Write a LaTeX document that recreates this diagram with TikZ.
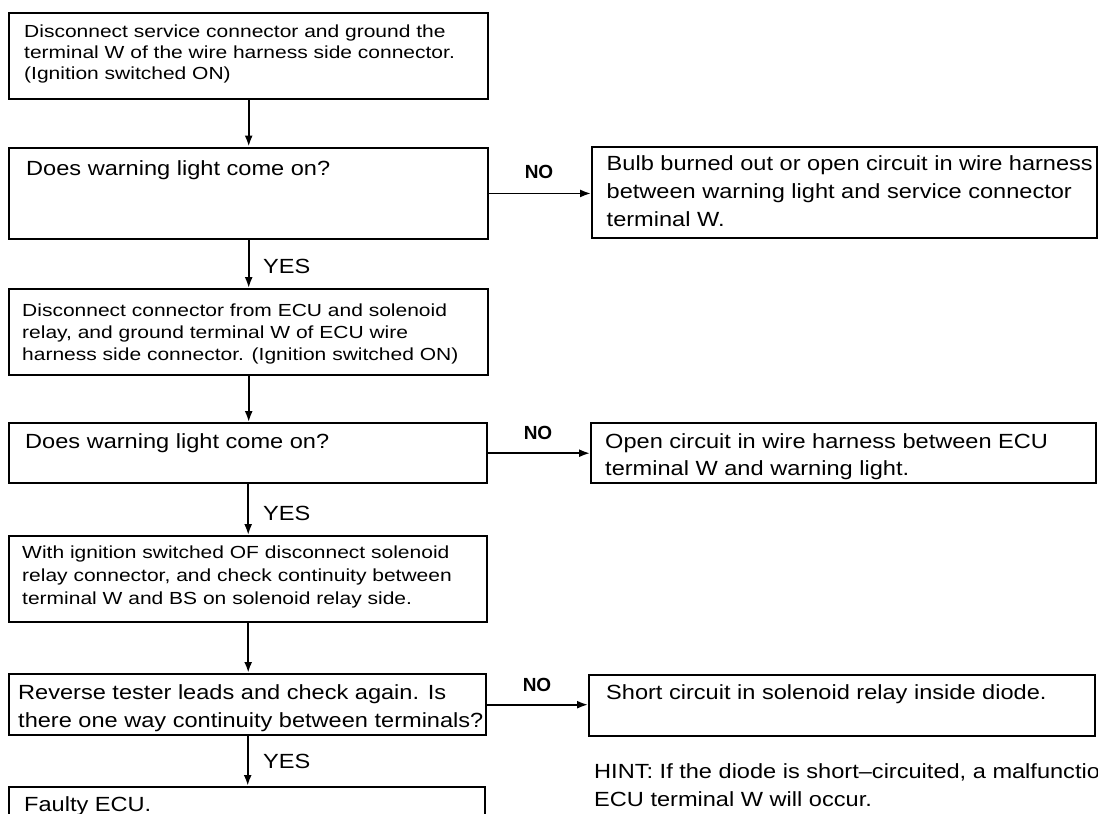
\documentclass[tikz,border=0pt]{standalone}
\usepackage{fontspec}
\setmainfont{Liberation Sans}
\newfontfamily\narrowtext{Liberation Sans}[FakeStretch=1.2]
\newfontfamily\widetext{Liberation Sans}[FakeStretch=1.15]
\usetikzlibrary{arrows.meta}

\tikzset{
  box/.style={draw, line width=2.4pt, inner sep=0pt, rectangle, anchor=north west},
  small/.style={inner sep=0pt, anchor=north west, align=left,
    font=\narrowtext\fontsize{17.5}{#1}\selectfont},
  small/.default=21,
  big/.style={inner sep=0pt, anchor=north west, align=left,
    font=\widetext\fontsize{20.5}{#1}\selectfont},
  big/.default=28,
  nolabel/.style={inner sep=0pt, font=\bfseries\fontsize{19}{19}\selectfont},
  yeslabel/.style={inner sep=0pt, anchor=west, font=\widetext\fontsize{20.5}{28}\selectfont},
  flow/.style={line width=1.8pt, -{Latex[length=11pt,width=8pt]}},
  heavyflow/.style={flow, line width=2.4pt},
}

\begin{document}
\begin{tikzpicture}[x=1pt, y=-1pt]
\useasboundingbox (0,0) rectangle (1098,814);
\fill[white] (0,0) rectangle (1098,814);
\clip (0,0) rectangle (1098,814);

% left column: steps and questions
\node[box, minimum width=479, minimum height=86]   (b1) at (8,12) {};
\node[box, minimum width=479, minimum height=91.5] (q1) at (8,146.5) {};
\node[box, minimum width=479, minimum height=86]   (b3) at (8,288) {};
\node[box, minimum width=478, minimum height=60]   (q2) at (8,422) {};
\node[box, minimum width=478, minimum height=86]   (b5) at (8,535) {};
\node[box, minimum width=477, minimum height=61]   (q3) at (8,673) {};
\node[box, minimum width=476, minimum height=64]   (fe) at (8,786) {};

% right column: results
\node[box, minimum width=505, minimum height=91] (r1) at (591,146) {};
\node[box, minimum width=505, minimum height=60] (r2) at (590,422) {};
\node[box, minimum width=506, minimum height=61] (r3) at (588,674) {};

% box texts
\node[small] (t1) at (24,25) {Disconnect service connector and ground the\\terminal W of the wire harness side connector.\\(Ignition switched ON)};
\node[big] (tq1) at (26,160) {Does warning light come on?};
\node[big] (tr1) at (606.5,155) {Bulb burned out or open circuit in wire harness\\between warning light and service connector\\terminal W.};
\node[small=22] (t3) at (22,303.5) {Disconnect connector from ECU and solenoid\\relay, and ground terminal W of ECU wire\\harness side connector. (Ignition switched ON)};
\node[big] (tq2) at (25,433) {Does warning light come on?};
\node[big=27] (tr2) at (605,433) {Open circuit in wire harness between ECU\\terminal W and warning light.};
\node[small=23] (t5) at (22,545.5) {With ignition switched OF disconnect solenoid\\relay connector, and check continuity between\\terminal W and BS on solenoid relay side.};
\node[big] (tq3) at (18,684) {Reverse tester leads and check again. Is\\there one way continuity between terminals?};
\node[big] (tr3) at (606,684.5) {Short circuit in solenoid relay inside diode.};
\node[big] (tfe) at (24,796) {Faulty ECU.};
\node[big] (hint) at (594,763) {HINT: If the diode is short–circuited, a malfunction\\ECU terminal W will occur.};

% vertical flow
\draw[flow] (b1.south) -- (b1.south |- q1.north);
\draw[flow] (q1.south) -- (q1.south |- b3.north);
\draw[flow] (b3.south) -- (b3.south |- q2.north);
\draw[flow] (q2.south) -- (q2.south |- b5.north);
\draw[heavyflow] (b5.south) -- (b5.south |- q3.north);
\draw[heavyflow] (q3.south) -- (q3.south |- fe.north);

% NO branches
\draw[flow] (q1.east) -- (q1.east -| r1.west);
\draw[flow] (q2.east) -- (q2.east -| r2.west);
\draw[flow] (q3.east) -- (q3.east -| r3.west);

% branch labels
\node[nolabel] (no1) at (539,172) {NO};
\node[nolabel] (no2) at (538,433) {NO};
\node[nolabel] (no3) at (537,685) {NO};
\node[yeslabel] (yes1) at (263,266.7) {YES};
\node[yeslabel] (yes2) at (263,513) {YES};
\node[yeslabel] (yes3) at (263,761.7) {YES};
\end{tikzpicture}
\end{document}
